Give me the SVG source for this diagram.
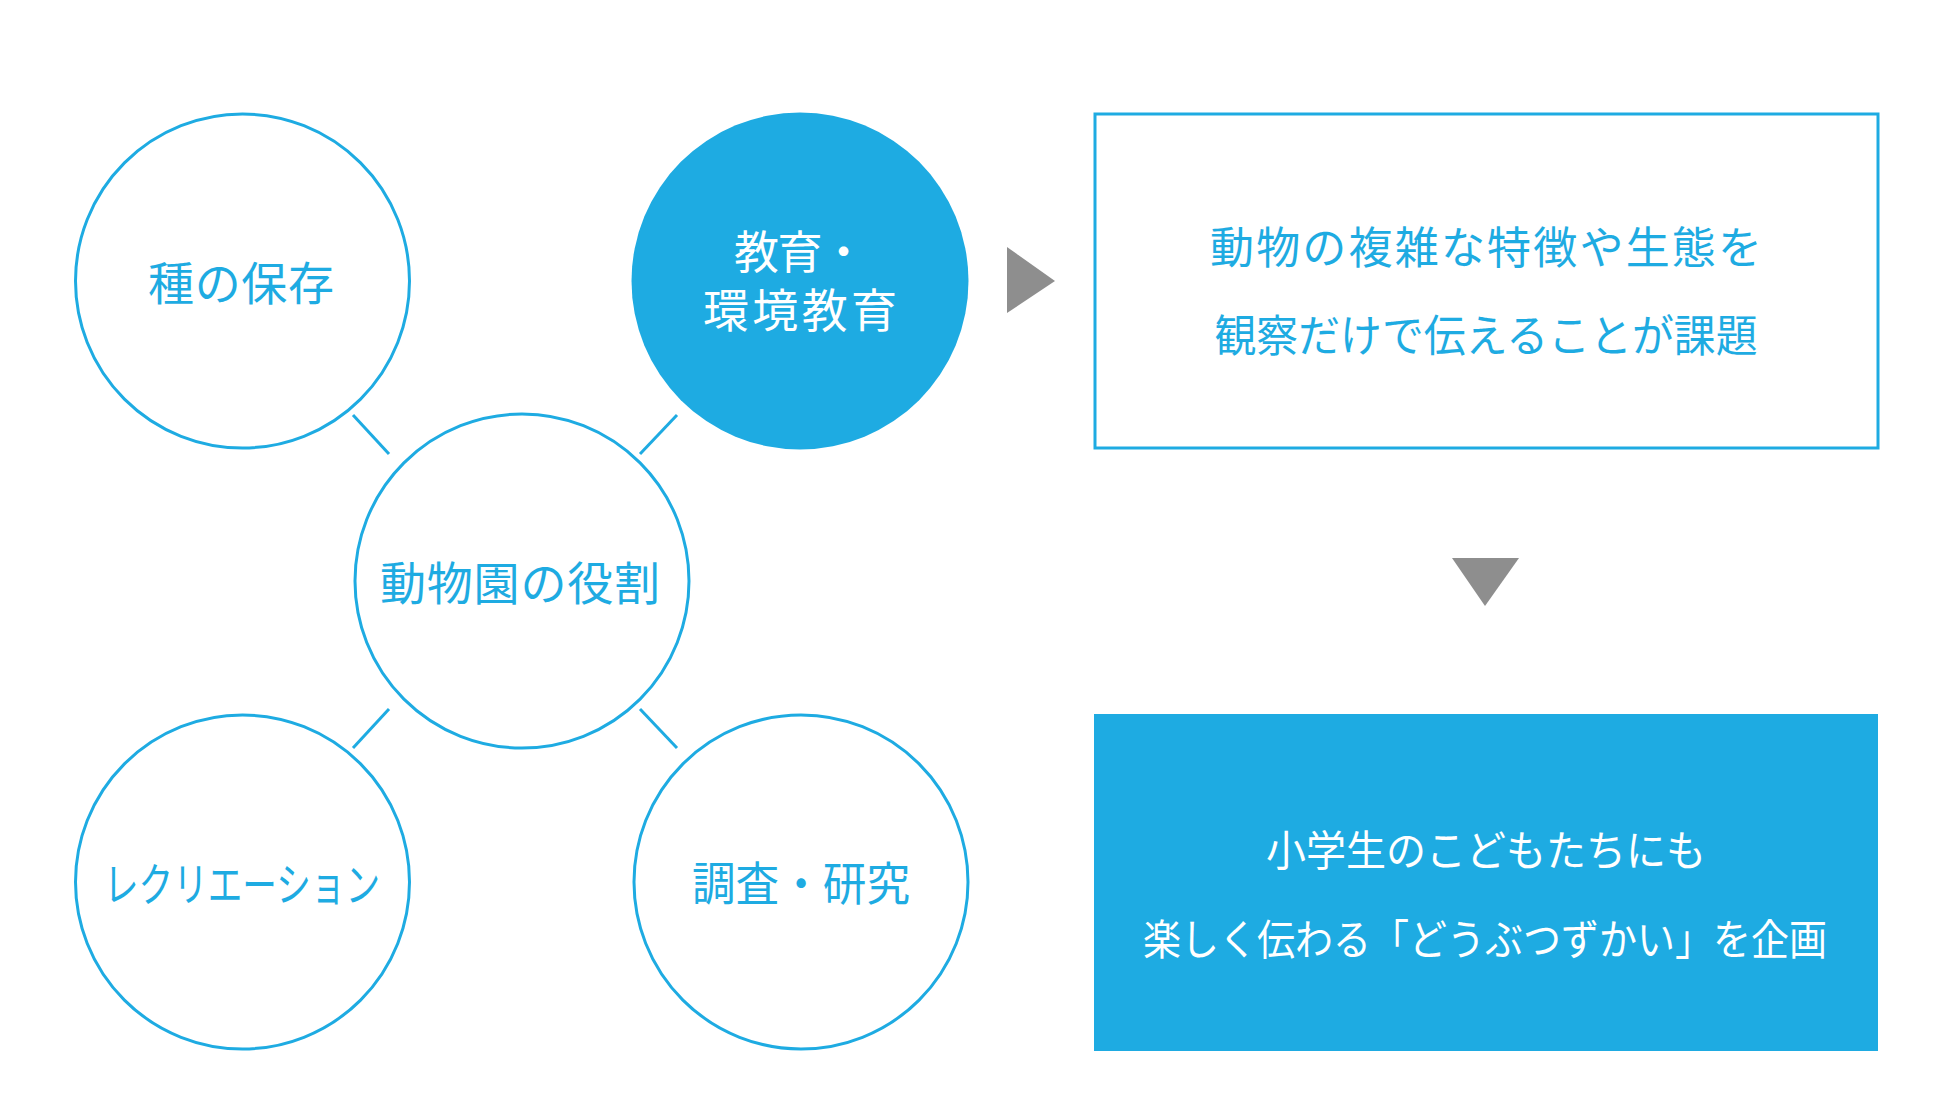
<svg xmlns="http://www.w3.org/2000/svg" width="1950" height="1094" viewBox="0 0 1950 1094">
<style>
.c{fill:#fff;stroke:#1eabe2;stroke-width:3}
.cf{fill:#1eabe2}
.t{font-family:"Noto Sans CJK JP","Noto Sans CJK SC",sans-serif;text-anchor:middle}
.b{fill:#1eabe2}
.w{fill:#fff}
.ln{stroke:#1eabe2;stroke-width:3;fill:none}
.tri{fill:#8e8e8e}
</style>
<rect width="1950" height="1094" fill="#fff"/>
<g id="connectors">
<line class="ln" x1="353" y1="415" x2="389" y2="454"/>
<line class="ln" x1="640" y1="454" x2="677" y2="415"/>
<line class="ln" x1="389" y1="709" x2="353" y2="748"/>
<line class="ln" x1="640" y1="709" x2="677" y2="748"/>
<polygon class="tri" points="1007,247 1055,281 1007,313"/>
<polygon class="tri" points="1452,558 1519,558 1485,606"/>
</g>
<g id="node-species">
<circle class="c" cx="242.5" cy="281" r="167"/>
<text class="t b" x="241" y="300" font-size="46" textLength="186">種の保存</text>
</g>
<g id="node-education">
<circle class="cf" cx="800" cy="281" r="168.5"/>
<text class="t w" x="800" y="269" font-size="45" textLength="132">教育・</text>
<text class="t w" x="800" y="327" font-size="46" textLength="194">環境教育</text>
</g>
<g id="node-center">
<circle class="c" cx="522" cy="581" r="167"/>
<text class="t b" x="520" y="600" font-size="46" textLength="280">動物園の役割</text>
</g>
<g id="node-recreation">
<circle class="c" cx="242.5" cy="882" r="167"/>
<text class="t b" x="242" y="901" font-size="46" textLength="276" lengthAdjust="spacingAndGlyphs">レクリエーション</text>
</g>
<g id="node-research">
<circle class="c" cx="801" cy="882" r="167"/>
<text class="t b" x="801" y="900" font-size="46" textLength="218" lengthAdjust="spacingAndGlyphs">調査・研究</text>
</g>
<g id="node-issue">
<rect x="1095" y="114" width="783" height="334" fill="#fff" stroke="#1eabe2" stroke-width="3"/>
<text class="t b" x="1486" y="264" font-size="44" textLength="552">動物の複雑な特徴や生態を</text>
<text class="t b" x="1486" y="352" font-size="44" textLength="543" lengthAdjust="spacingAndGlyphs">観察だけで伝えることが課題</text>
</g>
<g id="node-plan">
<rect x="1094" y="714" width="784" height="337" fill="#1eabe2"/>
<text class="t w" x="1486" y="866" font-size="42" textLength="440" lengthAdjust="spacingAndGlyphs">小学生のこどもたちにも</text>
<text class="t w" x="1485" y="955" font-size="42" textLength="684" lengthAdjust="spacingAndGlyphs">楽しく伝わる「どうぶつずかい」を企画</text>
</g>
</svg>
